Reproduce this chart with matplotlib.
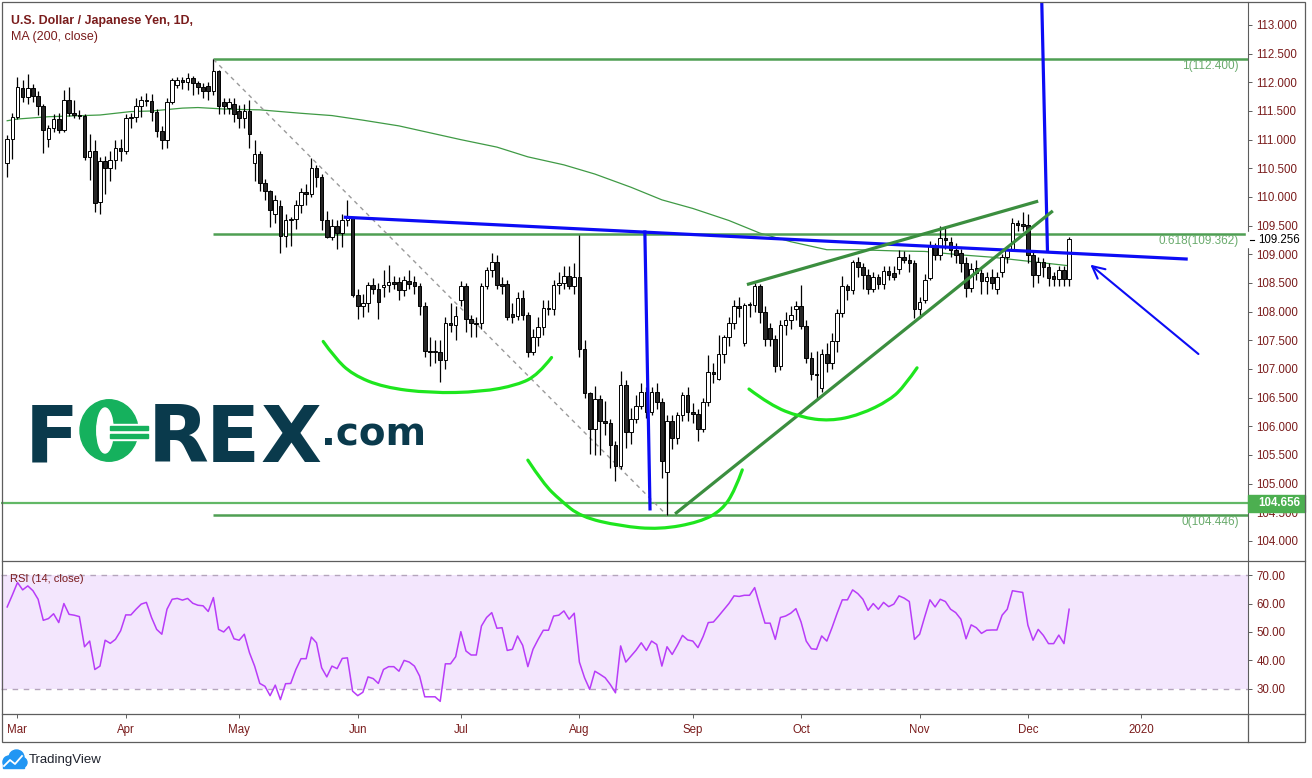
import numpy as np
import matplotlib.pyplot as plt
from matplotlib.path import Path
from matplotlib.patches import PathPatch, Rectangle, Circle, Ellipse
from matplotlib.transforms import blended_transform_factory

# ---- data: USD/JPY daily, one bar per weekday, bar 0 = 1 Mar 2019 ----
first_bar = -2
opens = [110.59, 111.01, 111.39, 111.90, 111.74, 111.90, 111.77, 111.58, 111.01, 111.20,
         111.36, 111.17, 111.69, 111.46, 111.43, 111.41, 110.70, 110.81, 109.92, 110.62,
         110.50, 110.64, 110.85, 110.80, 111.37, 111.40, 111.58, 111.70, 111.68, 111.48,
         111.15, 111.00, 111.66, 111.95, 112.04, 112.00, 112.07, 111.98, 111.91, 111.93,
         111.84, 112.19, 111.65, 111.55, 111.63, 111.50, 111.38, 111.50, 110.59, 110.75,
         110.24, 110.10, 109.70, 109.85, 109.32, 109.60, 109.62, 109.86, 110.08, 110.05,
         110.50, 110.35, 109.60, 109.30, 109.50, 109.38, 109.60, 109.63, 108.29, 108.09,
         108.15, 108.47, 108.40, 108.43, 108.46, 108.51, 108.51, 108.37, 108.53, 108.51,
         108.45, 108.10, 107.32, 107.30, 107.30, 107.16, 107.80, 107.77, 108.20, 108.45,
         107.88, 107.80, 107.80, 108.45, 108.73, 108.86, 108.48, 108.48, 107.96, 107.92,
         108.23, 107.94, 107.30, 107.55, 107.73, 108.06, 108.05, 108.47, 108.50, 108.62,
         108.45, 108.60, 107.35, 106.58, 105.95, 106.48, 106.10, 106.05, 105.68, 105.30,
         106.72, 105.90, 106.12, 106.35, 106.60, 106.25, 106.60, 106.42, 105.20, 106.10,
         105.80, 106.20, 106.55, 106.25, 106.22, 105.95, 106.42, 106.94, 106.82, 107.26,
         107.55, 107.80, 108.10, 107.46, 108.12, 108.12, 108.45, 108.00, 107.71, 107.52,
         107.05, 107.77, 107.85, 108.04, 108.09, 107.75, 107.19, 106.92, 106.66, 107.26,
         107.10, 107.48, 107.97, 108.44, 108.37, 108.86, 108.78, 108.64, 108.39, 108.61,
         108.49, 108.71, 108.68, 108.74, 108.96, 108.90, 108.84, 108.04, 108.20, 108.59,
         109.15, 108.99, 109.29, 109.21, 109.07, 109.02, 108.84, 108.42, 108.76, 108.68,
         108.53, 108.60, 108.40, 108.70, 108.95, 109.10, 109.54, 109.53, 109.51, 108.99,
         108.64, 108.87, 108.78, 108.62, 108.57, 108.73, 108.57]
highs = [111.08, 111.47, 112.09, 112.04, 112.15, 111.97, 111.85, 111.62, 111.25, 111.45,
         111.47, 111.87, 111.91, 111.69, 111.51, 111.45, 111.10, 111.00, 110.70, 110.72,
         110.80, 111.00, 111.02, 111.44, 111.47, 111.72, 111.76, 111.82, 111.80, 111.54,
         111.24, 111.73, 112.08, 112.10, 112.10, 112.17, 112.11, 112.02, 111.98, 112.00,
         112.40, 112.22, 111.72, 111.72, 111.72, 111.60, 111.62, 111.70, 111.00, 110.80,
         110.32, 110.13, 110.04, 109.95, 109.70, 109.65, 109.95, 110.15, 110.22, 110.68,
         110.55, 110.40, 109.75, 109.62, 109.60, 109.70, 109.95, 109.65, 108.40, 108.30,
         108.52, 108.58, 108.50, 108.73, 108.81, 108.62, 108.60, 108.62, 108.73, 108.62,
         108.50, 108.16, 107.55, 107.50, 107.50, 107.90, 108.15, 108.10, 108.53, 108.50,
         107.95, 107.90, 108.50, 108.78, 109.02, 108.99, 108.60, 108.55, 108.15, 108.35,
         108.38, 108.00, 107.70, 107.90, 108.20, 108.20, 108.55, 108.70, 108.80, 108.80,
         108.85, 109.34, 107.50, 106.60, 106.70, 106.55, 106.45, 106.12, 105.75, 106.97,
         106.80, 106.32, 106.55, 106.75, 106.68, 106.68, 106.75, 106.50, 106.20, 106.20,
         106.25, 106.60, 106.68, 106.40, 106.30, 106.50, 107.24, 107.11, 107.59, 107.60,
         107.90, 108.20, 108.26, 108.15, 108.17, 108.50, 108.48, 108.10, 107.80, 107.60,
         107.85, 108.00, 108.10, 108.18, 108.47, 107.85, 107.30, 107.31, 107.35, 107.45,
         107.62, 108.05, 108.63, 108.48, 108.90, 108.95, 108.85, 108.75, 108.70, 108.65,
         108.80, 108.80, 108.80, 109.07, 109.05, 109.00, 108.90, 108.25, 108.65, 109.23,
         109.20, 109.49, 109.49, 109.30, 109.20, 109.10, 108.95, 108.85, 108.90, 108.75,
         108.70, 108.75, 108.70, 109.00, 109.15, 109.63, 109.60, 109.74, 109.70, 109.05,
         108.95, 108.93, 108.85, 108.70, 108.80, 108.80, 109.30]
lows = [110.35, 110.66, 111.36, 111.66, 111.63, 111.65, 111.43, 110.76, 110.88, 111.14,
        111.12, 111.14, 111.41, 111.38, 111.36, 110.64, 110.30, 109.74, 109.70, 110.05,
        110.28, 110.48, 110.62, 110.75, 111.20, 111.30, 111.40, 111.58, 111.33, 111.05,
        110.84, 110.85, 111.63, 111.90, 111.88, 111.86, 111.78, 111.80, 111.73, 111.70,
        111.78, 111.45, 111.45, 111.45, 111.30, 111.20, 111.20, 110.85, 110.28, 110.10,
        109.95, 109.47, 109.55, 109.02, 109.12, 109.15, 109.45, 109.72, 109.86, 110.00,
        110.18, 109.42, 109.28, 109.25, 109.10, 109.12, 109.50, 108.25, 107.87, 107.90,
        108.00, 108.30, 107.88, 108.26, 108.35, 108.40, 108.20, 108.28, 108.40, 108.30,
        107.95, 107.21, 107.05, 107.10, 106.78, 107.00, 107.65, 107.50, 108.10, 107.65,
        107.55, 107.55, 107.70, 108.40, 108.60, 108.40, 108.30, 107.85, 107.80, 107.85,
        107.85, 107.21, 107.25, 107.40, 107.60, 107.95, 107.95, 108.30, 108.40, 108.40,
        108.30, 107.21, 106.50, 105.52, 105.50, 105.50, 105.85, 105.27, 105.05, 105.25,
        105.63, 105.70, 106.05, 106.30, 106.14, 106.20, 106.30, 105.10, 104.45, 105.60,
        105.70, 106.10, 106.10, 106.05, 105.75, 105.90, 106.35, 106.75, 106.80, 107.10,
        107.40, 107.70, 107.90, 107.40, 107.90, 108.00, 107.80, 107.40, 107.40, 106.95,
        106.98, 107.60, 107.70, 107.85, 107.70, 107.10, 106.80, 106.49, 106.60, 106.95,
        107.00, 107.30, 107.90, 108.20, 108.30, 108.60, 108.40, 108.30, 108.35, 108.40,
        108.40, 108.55, 108.55, 108.65, 108.85, 108.70, 107.89, 107.89, 108.15, 108.55,
        108.90, 108.90, 109.10, 108.95, 108.85, 108.70, 108.25, 108.35, 108.55, 108.30,
        108.30, 108.40, 108.30, 108.60, 108.85, 109.05, 109.40, 109.40, 108.85, 108.43,
        108.50, 108.60, 108.45, 108.45, 108.45, 108.45, 108.45]
closes = [111.01, 111.39, 111.91, 111.74, 111.90, 111.77, 111.58, 111.17, 111.20, 111.36,
          111.17, 111.69, 111.46, 111.43, 111.41, 110.70, 110.81, 109.90, 110.62, 110.50,
          110.64, 110.85, 110.80, 111.37, 111.40, 111.58, 111.70, 111.68, 111.48, 111.15,
          111.00, 111.66, 112.04, 112.04, 112.00, 112.07, 111.98, 111.91, 111.84, 111.84,
          112.19, 111.59, 111.59, 111.65, 111.45, 111.38, 111.50, 111.09, 110.75, 110.24,
          110.10, 109.77, 109.95, 109.32, 109.60, 109.62, 109.86, 110.08, 110.05, 110.50,
          110.35, 109.60, 109.30, 109.50, 109.38, 109.60, 109.63, 108.29, 108.09, 108.15,
          108.47, 108.40, 108.17, 108.46, 108.51, 108.48, 108.37, 108.55, 108.49, 108.45,
          108.10, 107.32, 107.30, 107.32, 107.16, 107.80, 107.77, 107.92, 108.45, 107.88,
          107.80, 107.78, 108.45, 108.73, 108.86, 108.46, 108.45, 107.90, 107.90, 108.23,
          107.94, 107.30, 107.55, 107.73, 108.06, 108.05, 108.47, 108.50, 108.62, 108.45,
          108.60, 107.35, 106.58, 105.95, 106.48, 106.10, 106.05, 105.68, 105.30, 106.72,
          105.90, 106.12, 106.35, 106.60, 106.25, 106.60, 106.42, 105.40, 106.10, 105.80,
          106.20, 106.55, 106.25, 106.22, 105.95, 106.42, 106.94, 106.92, 107.26, 107.55,
          107.80, 108.10, 108.07, 108.12, 108.13, 108.45, 108.00, 107.52, 107.52, 107.05,
          107.77, 107.85, 107.94, 108.09, 107.75, 107.19, 106.92, 106.90, 107.26, 107.10,
          107.48, 107.97, 108.44, 108.37, 108.86, 108.78, 108.64, 108.39, 108.61, 108.49,
          108.71, 108.64, 108.61, 108.95, 108.90, 108.84, 108.04, 108.16, 108.56, 109.15,
          108.99, 109.29, 109.25, 109.07, 108.99, 108.84, 108.42, 108.75, 108.67, 108.53,
          108.60, 108.50, 108.61, 108.95, 109.10, 109.54, 109.51, 109.49, 108.99, 108.64,
          108.87, 108.78, 108.58, 108.57, 108.73, 108.57, 109.26]
rsi_vals = [58.8, 63.0, 67.4, 64.8, 66.2, 64.5, 61.5, 54.1, 54.7, 56.4,
            53.3, 60.0, 56.2, 55.9, 55.4, 44.8, 46.8, 36.8, 38.0, 47.1,
            46.0, 47.4, 50.4, 56.0, 56.0, 58.0, 59.8, 60.4, 55.1, 50.9,
            49.2, 58.0, 61.5, 61.8, 61.2, 61.8, 60.1, 59.4, 59.2, 57.2,
            62.1, 50.9, 50.0, 51.9, 47.6, 47.1, 49.2, 42.7, 38.0, 31.9,
            30.9, 27.6, 31.3, 26.2, 31.8, 31.9, 36.8, 40.6, 40.6, 48.2,
            46.2, 37.4, 34.2, 38.0, 37.1, 40.7, 40.9, 29.2, 27.6, 28.8,
            34.2, 33.6, 31.9, 36.8, 37.8, 37.8, 36.2, 40.0, 39.4, 38.0,
            34.5, 27.2, 27.2, 27.2, 25.6, 38.8, 38.8, 41.3, 50.1, 43.3,
            41.9, 41.9, 52.1, 55.1, 56.8, 51.3, 51.5, 43.5, 43.9, 48.6,
            45.3, 37.8, 43.9, 47.4, 50.6, 50.6, 55.6, 55.9, 57.4, 54.5,
            56.6, 39.4, 33.9, 29.8, 36.2, 35.1, 33.9, 31.5, 28.6, 45.1,
            39.4, 41.5, 43.6, 46.2, 43.5, 46.8, 45.6, 38.0, 44.8, 42.1,
            45.3, 48.8, 47.2, 46.8, 44.5, 48.4, 53.3, 53.5, 55.6, 57.8,
            60.0, 62.7, 62.5, 62.9, 62.9, 65.6, 59.2, 53.1, 53.1, 47.4,
            55.1, 55.6, 56.6, 58.2, 53.5, 46.8, 44.1, 43.9, 48.6, 46.8,
            51.5, 56.6, 61.3, 61.3, 64.8, 63.5, 61.5, 57.6, 60.0, 58.0,
            60.4, 58.9, 59.8, 62.7, 61.9, 60.7, 47.4, 49.2, 55.4, 61.3,
            58.8, 61.5, 60.7, 58.0, 56.8, 54.5, 47.6, 52.5, 51.5, 49.5,
            50.6, 50.7, 50.7, 55.9, 58.0, 64.5, 64.2, 63.9, 52.4, 47.1,
            50.9, 48.8, 45.9, 45.9, 48.9, 45.9, 58.0]
ma_bars = [-2, 0, 6, 16, 22, 26, 32, 35, 41, 47, 55, 61, 67, 74, 80, 86, 93,
           99, 106, 112, 119, 125, 131, 138, 144, 150, 157, 163, 170, 176, 183, 189, 204]
ma_vals = [111.33, 111.36, 111.40, 111.43, 111.49, 111.50, 111.55, 111.56, 111.53,
           111.52, 111.46, 111.42, 111.34, 111.24, 111.12, 111.00, 110.87, 110.70,
           110.56, 110.40, 110.17, 109.95, 109.80, 109.59, 109.37, 109.22, 109.08,
           109.08, 109.06, 109.05, 108.99, 108.95, 108.80]

month_bars = [0, 21, 43, 66, 86, 109, 131, 152, 175, 196, 218]
month_labels = ["Mar", "Apr", "May", "Jun", "Jul", "Aug", "Sep", "Oct", "Nov", "Dec", "2020"]
price_ticks = [104.0, 104.5, 105.0, 105.5, 106.0, 106.5, 107.0, 107.5, 108.0,
               108.5, 109.0, 109.5, 110.0, 110.5, 111.0, 111.5, 112.0, 112.5, 113.0]
rsi_ticks = [30, 40, 50, 60, 70]
fib_levels = [112.400, 109.362, 104.446]
fib_names = ["1", "0.618", "0"]
hline_level = 104.656
last_price = 109.256

# ---- style ----
plt.rcParams['font.family'] = ['Liberation Sans', 'DejaVu Sans']
W, H = 1312, 778
RED = "#7a1c1c"
GRID = "#5d5d5d"
BLUE = "#0c0cf5"
TREND = "#3b8e3f"
LIME = "#1ee61e"
FIB = "#4f9f53"

fig = plt.figure(figsize=(W / 100, H / 100), dpi=100)


def box(left, top, right, bottom):
    return [left / W, 1 - bottom / H, (right - left) / W, (bottom - top) / H]


def smooth_path(pts):
    verts, codes = [pts[0]], [Path.MOVETO]
    for i in range(1, len(pts) - 1):
        if i == len(pts) - 2:
            end = pts[-1]
        else:
            end = ((pts[i][0] + pts[i + 1][0]) / 2, (pts[i][1] + pts[i + 1][1]) / 2)
        verts += [pts[i], end]
        codes += [Path.CURVE3, Path.CURVE3]
    return Path(verts, codes)


ax = fig.add_axes(box(1, 2, 1248, 560))
rax = fig.add_axes(box(1, 560, 1248, 714))
bars = np.arange(first_bar, first_bar + len(closes))
xlim = (-3.2, 238.7)

# ---- price panel ----
o = np.array(opens)
c = np.array(closes)
body_col = ['white' if cc >= oo else '#262626' for oo, cc in zip(o, c)]
ax.vlines(bars, lows, highs, color='black', lw=0.9, zorder=3)
ax.bar(bars, np.maximum(np.abs(c - o), 0.012), bottom=np.minimum(o, c), width=0.7,
       color=body_col, edgecolor='black', lw=0.7, zorder=4)
ax.plot(ma_bars, ma_vals, color='#3f9a45', lw=0.9, zorder=2)

ax.hlines(fib_levels, 38, xlim[1], color=FIB, lw=1.8, zorder=2)
ax.axhline(hline_level, color='#62b866', lw=1.6, zorder=2)
ax.plot([38, 126], [fib_levels[0], fib_levels[2]], color='#9a9a9a', lw=1,
        ls=(0, (3, 3)), zorder=2)
for name, lev in zip(fib_names, fib_levels):
    ax.annotate(f"{name}({lev:.3f})", xy=(0.9928, lev), xycoords=ax.get_yaxis_transform(),
                xytext=(0, -7), textcoords='offset pixels', ha='right', va='center',
                color='#6aab6d', fontsize=8.5)

# drawings: neckline, target projections, wedge, arrow
ax.plot([63.6, 226.7], [109.646, 108.918], color=BLUE, lw=2.3, zorder=5)
ax.plot([121.7, 122.7], [109.39, 104.56], color=BLUE, lw=2.3, zorder=5)
ax.plot([198.7, 199.8], [113.38, 109.06], color=BLUE, lw=2.3, zorder=5)
ax.annotate('', xy=(207.7, 108.85), xytext=(229.5, 107.23),
            arrowprops=dict(arrowstyle='->', color=BLUE, lw=1.5, mutation_scale=22))
ax.plot([141.8, 197.7], [108.48, 109.92], color=TREND, lw=2.3, zorder=5)
ax.plot([127.8, 200.6], [104.49, 109.74], color=TREND, lw=2.3, zorder=5)

curves = [
    [(59.3, 107.48), (61.5, 107.2), (65, 106.9), (71, 106.68), (80, 106.58),
     (90, 106.6), (97, 106.72), (101, 106.9), (103.6, 107.2)],
    [(99.0, 105.41), (102, 105.0), (105.3, 104.71), (109.3, 104.42), (116.9, 104.26),
     (124.6, 104.20), (132.4, 104.33), (136.7, 104.54), (139.2, 104.89), (140.6, 105.24)],
    [(141.9, 106.65), (146.0, 106.37), (151.8, 106.16), (157.6, 106.09), (163.4, 106.20),
     (169.3, 106.46), (172.2, 106.72), (174.5, 107.02)],
]
for pts in curves:
    ax.add_patch(PathPatch(smooth_path(pts), fill=False, ec=LIME, lw=2.3, zorder=5,
                           capstyle='round'))

ax.set_xlim(*xlim)
ax.set_ylim(103.668, 113.401)
ax.yaxis.tick_right()
ax.set_yticks(price_ticks)
ax.set_yticklabels([f"{t:.3f}" for t in price_ticks])
ax.tick_params(axis='y', direction='out', length=3, width=0.7, color=GRID,
               labelcolor=RED, labelsize=8.3, pad=3)
ax.tick_params(axis='x', bottom=False, labelbottom=False)
for s in ['top', 'left', 'bottom']:
    ax.spines[s].set_visible(False)
ax.spines['right'].set_color(GRID)
ax.spines['right'].set_linewidth(0.8)

# right-axis price labels
tr = blended_transform_factory(ax.transAxes, ax.transData)
px_x = 1 / 1247
px_y = 1 / 57.33
ax.add_patch(Rectangle((1.0, hline_level - 8.5 * px_y), 57 * px_x, 17 * px_y,
                       transform=tr, clip_on=False, color='#4caf50', zorder=6))
ax.text(1 + 10 * px_x, hline_level, f"{hline_level:.3f}", transform=tr, clip_on=False,
        color='white', weight='bold', fontsize=8.3, va='center', ha='left', zorder=7)
ax.add_patch(Rectangle((1 - 2 * px_x, last_price - 7.5 * px_y), 59 * px_x, 15 * px_y,
                       transform=tr, clip_on=False, color='white', zorder=6))
ax.plot([1 + 2 * px_x, 1 + 6 * px_x], [last_price, last_price], transform=tr,
        clip_on=False, color='black', lw=0.8, zorder=7)
ax.text(1 + 10 * px_x, last_price, f"{last_price:.3f}", transform=tr, clip_on=False,
        color='black', fontsize=8.3, va='center', ha='left', zorder=7)

# ---- RSI panel ----
rax.axhspan(30, 70, color='#f3e6fd', zorder=0, lw=0)
for lev in (30, 70):
    rax.axhline(lev, color='#b4a4bc', lw=1, ls=(0, (4, 4)), zorder=1)
rax.plot(bars, rsi_vals, color='#b83cf8', lw=1.1, zorder=2)
rax.set_xlim(*xlim)
rax.set_ylim(21.15, 75.31)
rax.yaxis.tick_right()
rax.set_yticks(rsi_ticks)
rax.set_yticklabels([f"{t:.2f}" for t in rsi_ticks])
rax.tick_params(axis='y', direction='out', length=3, width=0.7, color=GRID,
                labelcolor=RED, labelsize=8.3, pad=3)
rax.set_xticks(month_bars)
rax.set_xticklabels(month_labels)
rax.tick_params(axis='x', direction='out', length=3, width=0.7, color=GRID,
                labelcolor=RED, labelsize=8.3, pad=4)
for s in ['top', 'left', 'bottom']:
    rax.spines[s].set_visible(False)
rax.spines['right'].set_color(GRID)
rax.spines['right'].set_linewidth(0.8)

# ---- overlay in pixel coordinates: frame, titles, logos ----
ov = fig.add_axes([0, 0, 1, 1], zorder=10)
ov.set_xlim(0, W)
ov.set_ylim(H, 0)
ov.axis('off')
ov.add_patch(Rectangle((1.5, 1.5), 1303.5, 740.5, fill=False, ec=GRID, lw=0.9))
ov.plot([1.5, 1305], [560.5, 560.5], color=GRID, lw=0.9)
ov.plot([1.5, 1305], [714, 714], color=GRID, lw=0.9)
ov.plot([1248, 1248], [714, 742], color=GRID, lw=0.9)

ov.text(11, 24, "U.S. Dollar / Japanese Yen, 1D,", color=RED, fontsize=8.9,
        weight='bold', va='baseline')
ov.text(11, 40, "MA (200, close)", color=RED, fontsize=9, va='baseline')
ov.text(10.5, 581.5, "RSI (14, close)", color=RED, fontsize=8, va='baseline')

# FOREX.com logo
TEAL = "#0a3a4c"
GREEN = "#15b15d"
logo_font = dict(fontsize=57, weight='bold', family='DejaVu Sans', va='baseline',
                 ha='center')
ov.text(52, 461.7, "F", color=TEAL, **logo_font)
ov.text(178, 461.7, "R", color=TEAL, **logo_font)
ov.text(232.5, 461.7, "E", color=TEAL, **logo_font)
ov.text(290.5, 461.7, "X", color=TEAL, **logo_font)
ov.add_patch(Ellipse((109, 430.5), 58, 61.5, color=GREEN))
ov.add_patch(Ellipse((105, 430.5), 16.5, 45, color='white'))
ov.add_patch(Rectangle((110, 424), 38, 16, color='white'))
ov.add_patch(Rectangle((110, 426), 38, 4, color=GREEN))
ov.add_patch(Rectangle((110, 434), 38, 4, color=GREEN))
ov.text(321, 445, ".com", color=TEAL, fontsize=28, weight='bold', family='DejaVu Sans',
        va='baseline', ha='left')

# TradingView footer
TVBLUE = "#2196f3"
for cx, cy, r in [(9, 762, 6), (16.5, 757.5, 7.5), (22, 762.5, 5)]:
    ov.add_patch(Circle((cx, cy), r, color=TVBLUE))
ov.add_patch(Rectangle((3, 761), 21, 7, color=TVBLUE))
ov.plot([4, 10, 15, 22], [766, 760, 764, 756], color='white', lw=1.3)
ov.text(29, 760, "TradingView", color='#1e222d', fontsize=9.5, va='center', ha='left')

fig.savefig("out.png", dpi=100, facecolor='white')
